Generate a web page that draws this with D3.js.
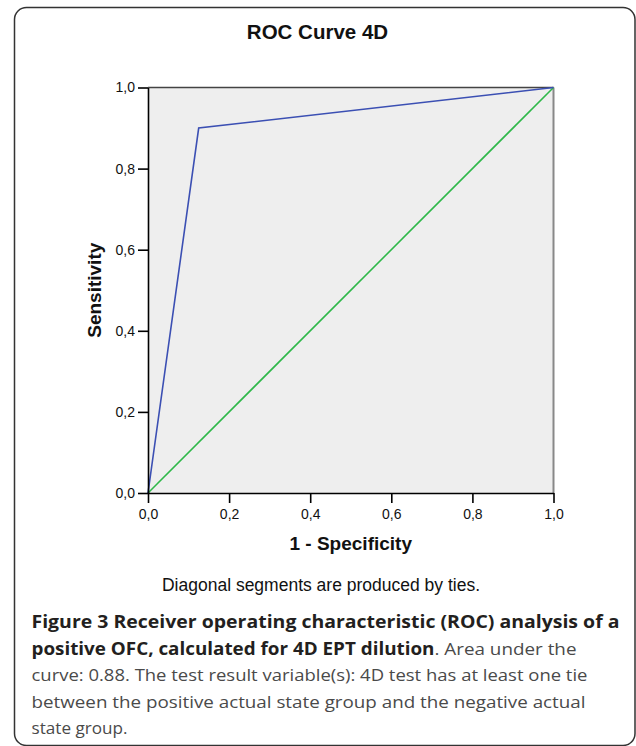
<!DOCTYPE html>
<html>
<head>
<meta charset="utf-8">
<title>ROC Curve 4D</title>
<script src="https://cdn.jsdelivr.net/npm/d3@7"></script>
<style>
  html, body { margin: 0; padding: 0; background: #fff; }
  svg { display: block; }
  .axis path, .axis line { stroke: #000; stroke-width: 1.6; fill: none; }
  .axis text { font: 14px "Liberation Sans", Arial, sans-serif; fill: #111; }
  .ttl { font-family: "Liberation Sans", Arial, sans-serif; font-weight: bold; fill: #111; }
  .cap { font-family: "Open Sans", sans-serif; }
</style>
</head>
<body>
<svg width="636" height="746"></svg>
<script>
// ROC points (1 - specificity, sensitivity)
var fprValues = [0, 0.125, 1];
var tprValues = [0, 0.9, 1];
// reference diagonal
var refFpr = [0, 1];
var refTpr = [0, 1];
var tickValues = [0, 0.2, 0.4, 0.6, 0.8, 1.0];

var chartTitle = "ROC Curve 4D";
var xTitle = "1 - Specificity";
var yTitle = "Sensitivity";
var note = "Diagonal segments are produced by ties.";
// caption, one entry per line: [bold part, regular part]
var captionLines = [
  ["Figure 3 Receiver operating characteristic (ROC) analysis of a", ""],
  ["positive OFC, calculated for 4D EPT dilution", ". Area under the"],
  ["", "curve: 0.88. The test result variable(s): 4D test has at least one tie"],
  ["", "between the positive actual state group and the negative actual"],
  ["", "state group."]
];
// how wide each caption line runs in the original
var captionWidths = [588, 545, 556, 554, 96];

var svg = d3.select("svg");

// outer frame
svg.append("rect")
    .attr("x", 14.5).attr("y", 7.5)
    .attr("width", 620.5).attr("height", 738)
    .attr("rx", 12).attr("ry", 12)
    .attr("fill", "none")
    .attr("stroke", "#333")
    .attr("stroke-width", 1.5);

var margin = {left: 148, top: 87.5},
    w = 405.5, h = 405.5;

var g = svg.append("g").attr("transform", "translate(" + margin.left + "," + margin.top + ")");

var x = d3.scaleLinear().domain([0, 1]).range([0, w]);
var y = d3.scaleLinear().domain([0, 1]).range([h, 0]);

var fmt = function(d) { return d3.format(".1f")(d).replace(".", ","); };

// plot background
g.append("rect")
    .attr("width", w).attr("height", h)
    .attr("fill", "#eeeeee");

// top and right frame of plot area
g.append("line").attr("x1", 0).attr("x2", w).attr("y1", 0).attr("y2", 0)
    .attr("stroke", "#444").attr("stroke-width", 1.4);
g.append("line").attr("x1", w).attr("x2", w).attr("y1", 0).attr("y2", h)
    .attr("stroke", "#888").attr("stroke-width", 2);

var line = d3.line()
    .x(function(d) { return x(d[0]); })
    .y(function(d) { return y(d[1]); });

g.append("path")
    .datum(refFpr.map(function(v, i) { return [v, refTpr[i]]; }))
    .attr("d", line)
    .attr("fill", "none")
    .attr("stroke", "#2fb84a")
    .attr("stroke-width", 1.6);

g.append("path")
    .datum(fprValues.map(function(v, i) { return [v, tprValues[i]]; }))
    .attr("d", line)
    .attr("fill", "none")
    .attr("stroke", "#3b4fb3")
    .attr("stroke-width", 1.6);

g.append("g")
    .attr("class", "axis")
    .attr("transform", "translate(0," + h + ")")
    .call(d3.axisBottom(x).tickValues(tickValues).tickSize(10).tickPadding(6).tickSizeOuter(0).tickFormat(fmt));

g.append("g")
    .attr("class", "axis")
    .call(d3.axisLeft(y).tickValues(tickValues).tickSize(10).tickPadding(3).tickSizeOuter(0).tickFormat(fmt));

// titles
svg.append("text").attr("class", "ttl")
    .attr("x", 317.5).attr("y", 39)
    .attr("text-anchor", "middle")
    .style("font-size", "20.5px")
    .text(chartTitle);

svg.append("text").attr("class", "ttl")
    .attr("x", margin.left + w / 2).attr("y", 550)
    .attr("text-anchor", "middle")
    .style("font-size", "19px")
    .text(xTitle);

svg.append("text").attr("class", "ttl")
    .attr("transform", "translate(101," + (margin.top + h / 2) + ") rotate(-90)")
    .attr("text-anchor", "middle")
    .style("font-size", "19px")
    .text(yTitle);

svg.append("text")
    .attr("x", 321).attr("y", 591)
    .attr("text-anchor", "middle")
    .style("font", "17.5px 'Liberation Sans', Arial, sans-serif")
    .style("fill", "#111")
    .text(note);

// caption
var cap = svg.append("g").attr("class", "cap");
var rows = cap.selectAll("text")
  .data(captionLines)
  .enter().append("text")
    .attr("x", 31.5)
    .attr("y", function(d, i) { return 628 + i * 26.6; })
    .attr("textLength", function(d, i) { return captionWidths[i]; })
    .attr("lengthAdjust", "spacingAndGlyphs")
    .style("font-size", "17px");

rows.append("tspan")
    .style("font-weight", "bold")
    .style("fill", "#231f20")
    .text(function(d) { return d[0]; });
rows.append("tspan")
    .style("fill", "#4a4a4a")
    .text(function(d) { return d[1]; });
</script>
</body>
</html>
